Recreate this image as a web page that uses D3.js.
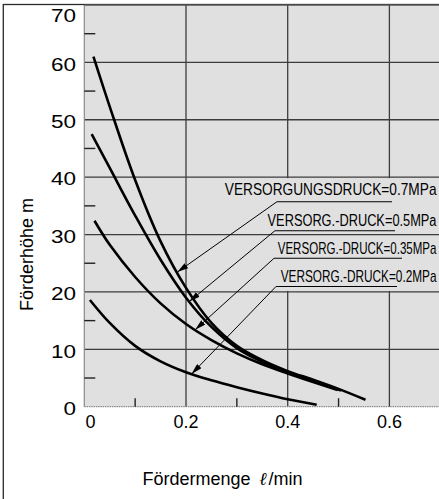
<!DOCTYPE html>
<html>
<head>
<meta charset="utf-8">
<script src="https://cdn.jsdelivr.net/npm/d3@7"></script>
<style>
  html, body { margin: 0; padding: 0; background: #fff; }
  svg { display: block; }
  text { font-family: "Liberation Sans", Arial, Helvetica, sans-serif; fill: #000; }
</style>
</head>
<body>
<svg id="chart" width="439" height="499"></svg>
<script>
// Pump head (Förderhöhe, m) against delivery (Fördermenge, l/min) for four supply pressures.

const pressureLabels = [
  "VERSORGUNGSDRUCK=0.7MPa",
  "VERSORG.-DRUCK=0.5MPa",
  "VERSORG.-DRUCK=0.35MPa",
  "VERSORG.-DRUCK=0.2MPa"
];

const flow07 = [0.018, 0.05, 0.1, 0.15, 0.2, 0.25, 0.3, 0.35, 0.4, 0.45, 0.5, 0.553];
const head07 = [61.0, 52.3, 39.5, 28.8, 20.7, 14.6, 10.6, 8.1, 6.2, 4.7, 3.1, 1.2];

const flow05 = [0.0145, 0.05, 0.1, 0.15, 0.2, 0.25, 0.3, 0.35, 0.4, 0.45, 0.505];
const head05 = [47.5, 41.6, 33.3, 25.6, 19.0, 13.9, 10.2, 7.8, 6.0, 4.5, 2.8];

const flow035 = [0.02, 0.05, 0.1, 0.15, 0.2, 0.25, 0.3, 0.35, 0.4, 0.45, 0.498];
const head035 = [32.4, 28.2, 22.6, 18.0, 14.4, 11.6, 9.3, 7.4, 5.8, 4.3, 2.9];

const flow02 = [0.011, 0.05, 0.1, 0.15, 0.2, 0.25, 0.3, 0.35, 0.4, 0.457];
const head02 = [18.6, 14.6, 10.6, 7.9, 6.0, 4.6, 3.4, 2.3, 1.3, 0.35];

// where each label's arrow touches its curve (flow value)
const pointerFlow = [0.183, 0.2065, 0.218, 0.211];

const xMajor = [0, 0.2, 0.4, 0.6];
const xMinor = [0.1, 0.3, 0.5];
const yMajor = [0, 10, 20, 30, 40, 50, 60, 70];
const yMinor = [5, 15, 25, 35, 45, 55, 65];
const xTickText = ["0", "0.2", "0.4", "0.6"];
const yTickText = ["0", "10", "20", "30", "40", "50", "60", "70"];

const series = [
  { flow: flow07, head: head07 },
  { flow: flow05, head: head05 },
  { flow: flow035, head: head035 },
  { flow: flow02, head: head02 }
];

// ---- layout ----
const svg = d3.select("#chart");
const plot = { left: 84.3, top: 5, right: 440.25, bottom: 406.7 };
const x = d3.scaleLinear().domain([0, 0.7]).range([plot.left, plot.right]);
const y = d3.scaleLinear().domain([0, 70]).range([plot.bottom, plot.top]);
const bg = "#e0e0e0";
const gridColor = "#3c3c3c";

// outer frame
svg.append("rect")
  .attr("x", 3.3).attr("y", 4.5).attr("width", 480).attr("height", 520)
  .attr("fill", "none").attr("stroke", "#2a2a2a").attr("stroke-width", 1.3);

// plot area
svg.append("rect")
  .attr("x", plot.left).attr("y", plot.top)
  .attr("width", plot.right - plot.left).attr("height", plot.bottom - plot.top)
  .attr("fill", bg);

// vertical grid
svg.append("g").selectAll("line").data(xMajor.filter(d => d > 0)).join("line")
  .attr("x1", d => x(d)).attr("x2", d => x(d))
  .attr("y1", plot.top).attr("y2", plot.bottom)
  .attr("stroke", gridColor).attr("stroke-width", 1.3);

// clear space behind the pressure labels
svg.append("rect")
  .attr("x", x(0.3)).attr("y", y(40) + 1)
  .attr("width", plot.right - x(0.3)).attr("height", y(20) - y(40) - 2)
  .attr("fill", bg);

// horizontal grid
svg.append("g").selectAll("line").data(yMajor.filter(d => d > 0)).join("line")
  .attr("x1", plot.left).attr("x2", plot.right)
  .attr("y1", d => y(d)).attr("y2", d => y(d))
  .attr("stroke", d => d === 70 ? "#555" : gridColor).attr("stroke-width", 1.3);

// axis lines (light, dotted look)
svg.append("line")
  .attr("x1", plot.left).attr("x2", plot.left).attr("y1", plot.top).attr("y2", plot.bottom)
  .attr("stroke", "#8a8a8a").attr("stroke-width", 1.2);
svg.append("line")
  .attr("x1", plot.left).attr("x2", plot.right).attr("y1", plot.bottom).attr("y2", plot.bottom)
  .attr("stroke", "#8a8a8a").attr("stroke-width", 1.2).attr("stroke-dasharray", "1.5,0.8");

// minor ticks
svg.append("g").selectAll("line").data(yMinor).join("line")
  .attr("x1", plot.left).attr("x2", plot.left + 11)
  .attr("y1", d => y(d)).attr("y2", d => y(d))
  .attr("stroke", "#222").attr("stroke-width", 1.4);
svg.append("g").selectAll("line").data(xMinor).join("line")
  .attr("x1", d => x(d)).attr("x2", d => x(d))
  .attr("y1", plot.bottom).attr("y2", plot.bottom - 8.5)
  .attr("stroke", "#222").attr("stroke-width", 1.4);

// y tick labels (set slightly wide)
svg.append("g").selectAll("g").data(yMajor).join("g")
  .attr("transform", d => {
    const cy = d === 70 ? 15.5 : y(d) + 2;
    return `translate(76, ${cy + 6.3}) scale(1.25, 1)`;
  })
  .append("text")
  .attr("text-anchor", "end")
  .style("font-size", "18px")
  .text((d, i) => yTickText[i]);

// x tick labels
svg.append("g").selectAll("text").data(xMajor).join("text")
  .attr("x", d => d === 0 ? x(d) + 1.2 : x(d))
  .attr("y", 428)
  .attr("text-anchor", d => d === 0 ? "start" : "middle")
  .style("font-size", "18px")
  .text((d, i) => xTickText[i]);

// axis titles
svg.append("text")
  .attr("transform", "translate(33, 254.5) rotate(-90)")
  .attr("text-anchor", "middle")
  .style("font-size", "18px")
  .text("Förderhöhe m");

const xTitle = svg.append("text").attr("y", 485).style("font-size", "18px");
xTitle.append("tspan").attr("x", 142.5).text("Fördermenge");
xTitle.append("tspan").attr("x", 259.5)
  .style("font-style", "italic").style("font-weight", "bold")
  .style("font-family", "'DejaVu Serif', serif").text("ℓ");
xTitle.append("tspan").attr("x", 268.5).text("/min");

// curves
const line = d3.line()
  .x(d => x(d[0])).y(d => y(d[1]))
  .curve(d3.curveCatmullRom.alpha(0.5));

svg.append("g").selectAll("path").data(series).join("path")
  .attr("d", s => line(s.flow.map((f, i) => [f, s.head[i]])))
  .attr("fill", "none").attr("stroke", "#000")
  .attr("stroke-width", 2.6).attr("stroke-linecap", "butt");

// arrowhead
svg.append("defs").append("marker")
  .attr("id", "arrow")
  .attr("markerUnits", "userSpaceOnUse")
  .attr("viewBox", "0 0 11 6")
  .attr("refX", 11).attr("refY", 3)
  .attr("markerWidth", 11).attr("markerHeight", 6)
  .attr("orient", "auto")
  .append("path").attr("d", "M0,0 L11,3 L0,6 Z").attr("fill", "#000");

// pressure labels with underline and leader arrow
const labelLayout = [
  { textEnd: 436.5, baseline: 195.0, width: 212, ulStart: 277, ulEnd: 392, ulY: 201.7 },
  { textEnd: 436.5, baseline: 225.7, width: 169, ulStart: 275, ulEnd: 395, ulY: 230.7 },
  { textEnd: 436.5, baseline: 254.0, width: 159, ulStart: 274, ulEnd: 402, ulY: 258.3 },
  { textEnd: 436.5, baseline: 281.7, width: 156, ulStart: 276, ulEnd: 397, ulY: 286.5 }
];

function headAt(s, f) {
  const i = d3.bisectLeft(s.flow, f);
  const i0 = Math.max(1, Math.min(s.flow.length - 1, i));
  const t = (f - s.flow[i0 - 1]) / (s.flow[i0] - s.flow[i0 - 1]);
  return s.head[i0 - 1] + t * (s.head[i0] - s.head[i0 - 1]);
}

const labels = svg.append("g");
labelLayout.forEach((L, i) => {
  // condensed lettering: squeeze the text horizontally to its set width
  const g = labels.append("g");
  const t = g.append("text")
    .attr("text-anchor", "end")
    .style("font-family", "'Liberation Sans Narrow', 'Liberation Sans', Arial, sans-serif")
    .style("font-size", "16px")
    .text(pressureLabels[i]);
  const natural = t.node().getComputedTextLength();
  const k = Math.min(1, L.width / natural);
  g.attr("transform", `translate(${L.textEnd}, ${L.baseline}) scale(${k}, 1)`);

  labels.append("line")
    .attr("x1", L.ulStart).attr("x2", L.ulEnd).attr("y1", L.ulY).attr("y2", L.ulY)
    .attr("stroke", "#000").attr("stroke-width", 1.1);
  const f = pointerFlow[i];
  labels.append("line")
    .attr("x1", L.ulStart).attr("y1", L.ulY)
    .attr("x2", x(f)).attr("y2", y(headAt(series[i], f)))
    .attr("stroke", "#000").attr("stroke-width", 1)
    .attr("marker-end", "url(#arrow)");
});
</script>
</body>
</html>
